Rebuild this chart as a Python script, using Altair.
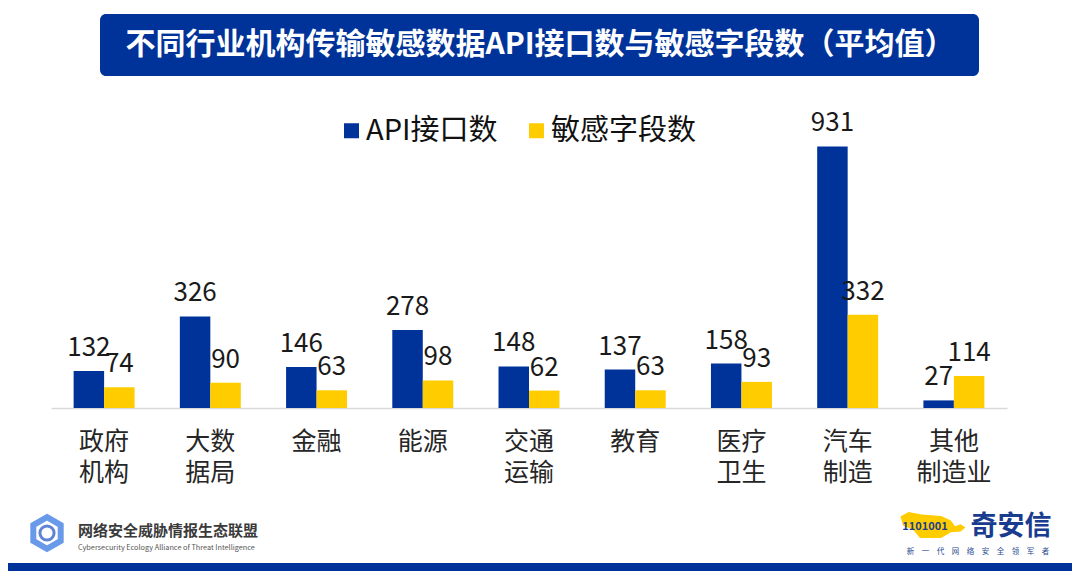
import altair as alt
import pandas as pd

categories = ["政府 机构", "大数 据局", "金融", "能源", "交通 运输", "教育", "医疗 卫生", "汽车 制造", "其他 制造业"]
series = ["API接口数", "敏感字段数"]
api_counts = [132, 326, 146, 278, 148, 137, 158, 931, 27]
field_counts = [74, 90, 63, 98, 62, 63, 93, 332, 114]
colors = ["#003399", "#FFCC00"]

title_text = "不同行业机构传输敏感数据API接口数与敏感字段数（平均值）"
org_cn = "网络安全威胁情报生态联盟"
org_en = "Cybersecurity  Ecology Alliance of Threat Intelligence"
brand = "奇安信"
slogan = "\u3000".join("新一代网络安全领军者")

rows = []
for c, a, f in zip(categories, api_counts, field_counts):
    rows.append({"cat": c, "series": series[0], "value": a})
    rows.append({"cat": c, "series": series[1], "value": f})
df = pd.DataFrame(rows)

FONT = "Noto Sans CJK SC"

base = alt.Chart(df).encode(
    x=alt.X("cat:N", sort=categories, title=None,
            scale=alt.Scale(paddingInner=0.426, paddingOuter=0.213),
            axis=alt.Axis(labelExpr="split(datum.value, ' ')", labelAngle=0,
                          labelFont=FONT, labelFontSize=25, labelColor="#262626",
                          labelLineHeight=31, labelPadding=21, ticks=False,
                          domainColor="#d9d9d9", domainWidth=1.5, grid=False)),
    xOffset=alt.XOffset("series:N", sort=series, scale=alt.Scale(paddingInner=0, paddingOuter=0)),
    y=alt.Y("value:Q", scale=alt.Scale(domain=[0, 1000]), axis=None),
)

bars = base.mark_bar().encode(
    color=alt.Color("series:N", sort=series,
                    scale=alt.Scale(domain=series, range=colors),
                    legend=alt.Legend(title=None, orient="none", direction="horizontal",
                                      legendX=286, legendY=-11, padding=0,
                                      symbolType="square", symbolSize=225, symbolStrokeWidth=0,
                                      labelFont=FONT, labelFontSize=29, labelColor="#111111",
                                      labelOffset=0, columnPadding=24))
)

labels = base.mark_text(font=FONT, fontSize=26, color="#1a1a1a", baseline="alphabetic", dy=-15).encode(
    text=alt.Text("value:Q")
)

one = pd.DataFrame({"k": [0]})

title_box = alt.Chart(one).mark_rect(color="#003399", cornerRadius=6).encode(
    x=alt.value(49), x2=alt.value(928), y=alt.value(-113), y2=alt.value(-51)
)
title = alt.Chart(one).mark_text(text=title_text, font=FONT, fontSize=30, fontWeight="bold",
                                  color="white", baseline="middle", align="center").encode(
    x=alt.value(489), y=alt.value(-82)
)

hexagon = "M0,-1 L0.866,-0.5 L0.866,0.5 L0,1 L-0.866,0.5 L-0.866,-0.5 Z"
icon = alt.Chart(one).mark_point(shape=hexagon, filled=False, stroke="#2a6fe0", strokeWidth=6,
                                 size=1000).encode(x=alt.value(-4), y=alt.value(406))
icon_inner = alt.Chart(one).mark_point(shape="circle", filled=False, stroke="#1d4fc4", strokeWidth=3,
                                       size=200).encode(x=alt.value(-4), y=alt.value(406))
org1 = alt.Chart(one).mark_text(text=org_cn, font=FONT, fontSize=15, fontWeight="bold",
                                 color="#3a3a3a", align="left", baseline="middle").encode(
    x=alt.value(27), y=alt.value(404))
org2 = alt.Chart(one).mark_text(text=org_en, font=FONT, fontSize=7.3, color="#555555",
                                 align="left", baseline="middle").encode(
    x=alt.value(27), y=alt.value(421))

tiger_path = ("M-1,-0.26 L-0.75,-0.4 L-0.35,-0.32 L0.25,-0.28 L0.55,-0.14 L0.68,0.04 "
              "L0.85,-0.02 L1,0.08 L0.85,0.2 L0.55,0.22 L0.25,0.4 L-0.4,0.4 L-0.62,0.14 L-0.92,0.02 Z")
tiger = alt.Chart(one).mark_point(shape=tiger_path, filled=True, color="#FFCC00", opacity=1,
                                  size=4225).encode(x=alt.value(882), y=alt.value(398))
digits = alt.Chart(one).mark_text(text="1101001", font=FONT, fontSize=11, fontWeight="bold",
                                   color="#1a3c8f", align="center", baseline="middle").encode(
    x=alt.value(874), y=alt.value(400))
brand_t = alt.Chart(one).mark_text(text=brand, font=FONT, fontSize=27, fontWeight="bold",
                                    color="#1a3c8f", align="center", baseline="middle").encode(
    x=alt.value(960), y=alt.value(400))
slogan_t = alt.Chart(one).mark_text(text=slogan, font=FONT, fontSize=7.5, color="#2a4a8f",
                                     align="center", baseline="middle").encode(
    x=alt.value(927), y=alt.value(425))

band = alt.Chart(one).mark_rect(color="#003399").encode(
    x=alt.value(-60), x2=alt.value(1100), y=alt.value(436), y2=alt.value(445))

chart = alt.layer(
    title_box, title, bars, labels, icon, icon_inner, org1, org2, tiger, digits, brand_t, slogan_t, band
).properties(
    width=956, height=281,
    autosize=alt.AutoSizeParams(type="none"),
    padding={"left": 43, "top": 119, "right": 65, "bottom": 163},
    background="white",
).configure_view(stroke=None)

chart.save("out.html", embed_options={"renderer": "svg", "actions": False})
